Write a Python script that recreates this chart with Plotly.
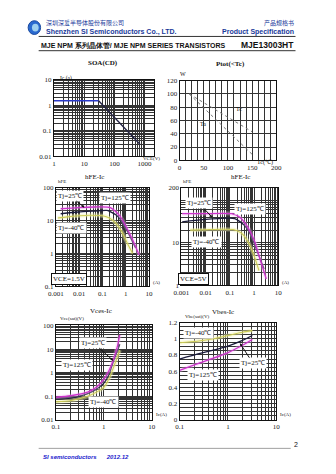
import plotly.graph_objects as go
import numpy as np

W, H = 336, 474
def X(px): return px / W
def Y(py): return 1 - py / H

# ---------------- data ----------------
soa_vce_dc = [1, 30]
soa_ic_dc = [1.5, 1.5]
soa_vce_p = [30, 700]
soa_ic_p = [1.5, 0.03]

ptot_tc = [20, 150]
ptot_upper = [100, 43]
ptot_lower = [100, 9]

hfe1_ic_125 = [0.0016, 0.0091, 0.045, 0.22, 0.56, 1.05, 2.0, 3.8]
hfe1_125 = [23, 25, 26, 25, 14, 6.5, 2.6, 0.9]
hfe1_ic_25 = [0.0016, 0.0091, 0.045, 0.16, 0.41, 0.78, 1.45, 2.7]
hfe1_25 = [16.2, 18.3, 19.5, 20.4, 14.5, 8.1, 3.6, 1.45]
hfe1_ic_m40 = [0.0012, 0.003, 0.01, 0.03, 0.1, 0.2, 0.4, 0.7, 1.2, 2.0]
hfe1_m40 = [12, 13, 14, 14.5, 14, 12, 8, 4.5, 2, 1]

hfe2_ic_125 = [0.00107, 0.0076, 0.117, 0.25, 0.54, 1.0, 1.8, 3.2]
hfe2_125 = [49, 49, 49, 41, 24, 11.8, 4, 1.4]
hfe2_ic_25 = [0.00107, 0.0076, 0.035, 0.16, 0.40, 0.73, 1.35, 2.6]
hfe2_25 = [31.5, 35.5, 37.5, 37.5, 26, 15.4, 6.3, 2.4]
hfe2_ic_m40 = [0.0023, 0.01, 0.05, 0.15, 0.3, 0.6, 1.0, 1.6]
hfe2_m40 = [20, 20.5, 21, 20.5, 17, 10, 5, 2.2]

vce_ic = [0.1, 0.2, 0.46, 0.7, 1.0, 1.3, 1.58, 1.9, 2.15]
vce_125 = [0.09, 0.105, 0.15, 0.24, 0.52, 1.3, 3.5, 12, 40]
vce_25 = [0.075, 0.085, 0.13, 0.2, 0.36, 0.9, 3.0, 8, 16]
vce_m40 = [0.058, 0.065, 0.1, 0.15, 0.24, 0.6, 1.6, 4.5, 9]

vbe_ic = [0.1, 0.23, 0.5, 1.0, 2.0, 3.2]
vbe_m40 = [0.95, 0.97, 1.0, 1.04, 1.08, 1.1]
vbe_25 = [0.75, 0.81, 0.86, 0.91, 0.98, 1.04]
vbe_125 = [0.61, 0.69, 0.76, 0.83, 0.92, 0.99]

C125 = "#cc33cc"
C25 = "#1a1a3a"
CM40 = "#cccc55"

fig = go.Figure()

def add(x, y, ax, color, width=1.3, dash=None, band=None):
    if band:
        fig.add_trace(go.Scatter(x=x, y=y, mode="lines", xaxis="x" + ax, yaxis="y" + ax,
                                 line=dict(color=band, width=4, shape="spline", smoothing=0.6),
                                 hoverinfo="skip", showlegend=False))
    fig.add_trace(go.Scatter(x=x, y=y, mode="lines", xaxis="x" + ax, yaxis="y" + ax,
                             line=dict(color=color, width=width, dash=dash, shape="spline",
                                       smoothing=0.6),
                             showlegend=False))

add(soa_vce_dc, soa_ic_dc, "", "#2a3ac8", 1.3)
add(soa_vce_p, soa_ic_p, "", "#222244", 1.3)

add(ptot_tc, ptot_upper, "2", "#777", 1.0, dash="dot")
add(ptot_tc, ptot_lower, "2", "#777", 1.0, dash="dot")

YB = "rgba(240,240,170,0.45)"
PB = "rgba(245,190,245,0.35)"

add(hfe1_ic_m40, hfe1_m40, "3", CM40, 1.1, band=YB)
add(hfe1_ic_25, hfe1_25, "3", C25, 1.3)
add(hfe1_ic_125, hfe1_125, "3", C125, 1.3, band=PB)

add(hfe2_ic_m40, hfe2_m40, "4", CM40, 1.1, band=YB)
add(hfe2_ic_25, hfe2_25, "4", C25, 1.3)
add(hfe2_ic_125, hfe2_125, "4", C125, 1.3, band=PB)

add(vce_ic, vce_m40, "5", CM40, 1.1, band=YB)
add(vce_ic, vce_25, "5", C25, 1.3)
add(vce_ic, vce_125, "5", C125, 1.3, band=PB)

add(vbe_ic, vbe_m40, "6", CM40, 1.1, band=YB)
add(vbe_ic, vbe_25, "6", C25, 1.3)
add(vbe_ic, vbe_125, "6", C125, 1.3, band=PB)

TF = dict(family="Liberation Serif", size=7, color="#222")
GRID = "#333333"

def logaxis(lo, hi, dom, anchor):
    return dict(type="log", range=[lo, hi], domain=dom, anchor=anchor, dtick=1,
                showgrid=True, gridcolor=GRID, gridwidth=0.9,
                minor=dict(dtick="D1", showgrid=True, gridcolor=GRID, gridwidth=0.5, ticks=""),
                ticks="", tickfont=TF, showline=True, linecolor="#111", linewidth=1,
                mirror=True, zeroline=False)

def linaxis(lo, hi, dom, anchor, dtick, minor=None):
    a = dict(type="linear", range=[lo, hi], domain=dom, anchor=anchor, dtick=dtick,
             showgrid=True, gridcolor=GRID, gridwidth=0.8, ticks="", tickfont=TF,
             showline=True, linecolor="#111", linewidth=1, mirror=True, zeroline=False)
    if minor:
        a["minor"] = dict(dtick=minor, showgrid=True, gridcolor=GRID, gridwidth=0.5)
    return a

def xd(a, b): return [X(a), X(b)]
def yd(a, b): return [Y(b), Y(a)]

y4 = logaxis(0, np.log10(200), yd(187, 286), "x4")
y4.pop("dtick")
y4.update(tickmode="array", tickvals=[1, 10, 200], ticktext=["1", "10", "200"])

fig.update_layout(
    xaxis=logaxis(0, 3.3, xd(48, 152), "y"),
    yaxis=logaxis(-2, 1, yd(77, 155), "x"),
    xaxis2=linaxis(0, 200, xd(179, 280), "y2", 50, minor=12.5),
    yaxis2=linaxis(0, 120, yd(78, 159), "x2", 20),
    xaxis3=logaxis(-3, 1, xd(50, 147), "y3"),
    yaxis3=logaxis(-1, 2, yd(187, 287), "x3"),
    xaxis4=logaxis(-3, 1, xd(181, 282), "y4"),
    yaxis4=y4,
    xaxis5=logaxis(-1, 1, xd(50, 150), "y5"),
    yaxis5=logaxis(-2, 2, yd(327, 423), "x5"),
    xaxis6=logaxis(-1, 1, xd(179, 280), "y6"),
    yaxis6=linaxis(0, 1.2, yd(324, 423), "x6", 0.2, minor=0.05),
)

ann = []
def txt(px, py, s, size=7, color="#111", bold=False, xanchor="center", family="Liberation Serif",
        italic=False, bg=None, border=None):
    if bold:
        s = "<b>" + s + "</b>"
    if italic:
        s = "<i>" + s + "</i>"
    d = dict(x=X(px), y=Y(py), xref="paper", yref="paper", text=s, showarrow=False,
             font=dict(family=family, size=size, color=color), xanchor=xanchor, yanchor="middle")
    if bg:
        d["bgcolor"] = bg
    if border:
        d["bordercolor"] = border
        d["borderwidth"] = 1
        d["borderpad"] = 1
    ann.append(d)

def arrow(ax_name, x, y, dx, dy, s, logx=True, logy=True):
    xv = np.log10(x) if logx else x
    yv = np.log10(y) if logy else y
    ann.append(dict(x=float(xv), y=float(yv), xref="x" + ax_name, yref="y" + ax_name, ax=dx, ay=dy,
                    text=s, showarrow=True, arrowhead=2, arrowsize=0.6, arrowwidth=1,
                    arrowcolor="#111", bgcolor="white",
                    font=dict(family="Liberation Serif", size=7, color="#111")))

# header
HB = "#1a3a9a"
txt(38, 19, "深圳深爱半导体股份有限公司", size=6, color=HB, xanchor="left", family="Noto Sans CJK SC")
txt(38, 28, "Shenzhen SI Semiconductors Co., LTD.", size=7, color=HB, bold=True, xanchor="left",
    family="Liberation Sans")
txt(300, 19, "产品规格书", size=6, color=HB, xanchor="right", family="Noto Sans CJK SC")
txt(300, 28, "Product Specification", size=7, color=HB, bold=True, xanchor="right",
    family="Liberation Sans")
txt(32, 42, "MJE NPM 系列晶体管/ MJE NPM SERIES TRANSISTORS", size=7, color="#111", bold=True,
    xanchor="left", family="Liberation Sans")
txt(300, 42, "MJE13003HT", size=8.5, color="#111", bold=True, xanchor="right", family="Liberation Sans")

# chart titles
txt(99, 60, "SOA(CD)", size=7, bold=True)
txt(232, 61, "Ptot(<Tc)", size=7, bold=True)
txt(90, 176, "hFE-Ic", size=7)
txt(243, 176, "hFE-Ic", size=7)
txt(97, 312, "Vces-Ic", size=7)
txt(224, 313, "Vbes-Ic", size=7)

# axis labels
txt(52, 76, "Ic (a)", size=5.5, xanchor="left")
txt(139, 157, "VCE(V)", size=5, xanchor="left")
txt(183, 71, "W", size=6)
txt(268, 161, "Tc(℃)", size=6)
txt(50, 181, "hFE", size=5, xanchor="left")
txt(149, 283, "(A)", size=5, xanchor="left")
txt(181, 181, "hFE", size=5, xanchor="left")
txt(284, 283, "(A)", size=5, xanchor="left")
txt(52, 320, "Vce(sat)(V)", size=5, xanchor="left")
txt(152, 418, "Ic(A)", size=5, xanchor="left")
txt(183, 318, "Vbe(sat)(V)", size=5, xanchor="left")
txt(282, 418, "Ic(A)", size=5, xanchor="left")

# Ptot curve labels
txt(241, 107, "Tc", size=6)
txt(203, 122, "Ta", size=6)

# hFE1 labels
arrow("3", 0.017, 25, -15, -12, "Tj=25℃")
txt(112, 197, "Tj=125℃", bg="white")
txt(66, 228, "Tj=-40℃", bg="white")
txt(64, 280, "VCE=1.5V", bg="white", border="#111")

# hFE2 labels
arrow("4", 0.0186, 40, -13, -14, "Tj=25℃")
txt(253, 209, "Tj=125℃", bg="white")
txt(207, 242, "Tj=-40℃", bg="white")
txt(194, 280, "VCE=5V", bg="white", border="#111")

# Vces labels
arrow("5", 1.58, 3.2, -20, -18, "Tj=25℃")
txt(72, 367, "Tj=125℃", bg="white")
txt(100, 405, "Tj=-40℃", bg="white")

# Vbes labels
txt(199, 335, "Tj=-40℃", bg="white")
arrow("6", 1.77, 0.945, 13, 20, "Tj=25℃", logy=False)
txt(204, 377, "Tj=125℃", bg="white")

# footer
txt(296, 448, "2", size=7, xanchor="left", family="Liberation Sans")
txt(34, 461, "SI semiconductors      2012.12", size=6, color="#1a1acc", bold=True, italic=True,
    xanchor="left", family="Liberation Sans")

shapes = [
    dict(type="line", xref="paper", yref="paper", x0=X(32), x1=X(300), y0=Y(33), y1=Y(33),
         line=dict(color="#333", width=1)),
    dict(type="line", xref="paper", yref="paper", x0=X(32), x1=X(300), y0=Y(47.5), y1=Y(47.5),
         line=dict(color="#333", width=1)),
    dict(type="line", xref="paper", yref="paper", x0=X(32), x1=X(295), y0=Y(452), y1=Y(452),
         line=dict(color="#888", width=0.8)),
    dict(type="circle", xref="paper", yref="paper", x0=X(21), x1=X(34), y0=Y(31), y1=Y(17),
         fillcolor="#2a6ad0", line=dict(color="#1a4aa0", width=1)),
    dict(type="circle", xref="paper", yref="paper", x0=X(25), x1=X(32), y0=Y(28), y1=Y(20),
         fillcolor="#9fd0f0", line=dict(width=0)),
]

fig.update_layout(width=W, height=H, margin=dict(l=0, r=0, t=0, b=0),
                  paper_bgcolor="white", plot_bgcolor="white", showlegend=False,
                  annotations=ann, shapes=shapes)
fig.write_html("out.html")
